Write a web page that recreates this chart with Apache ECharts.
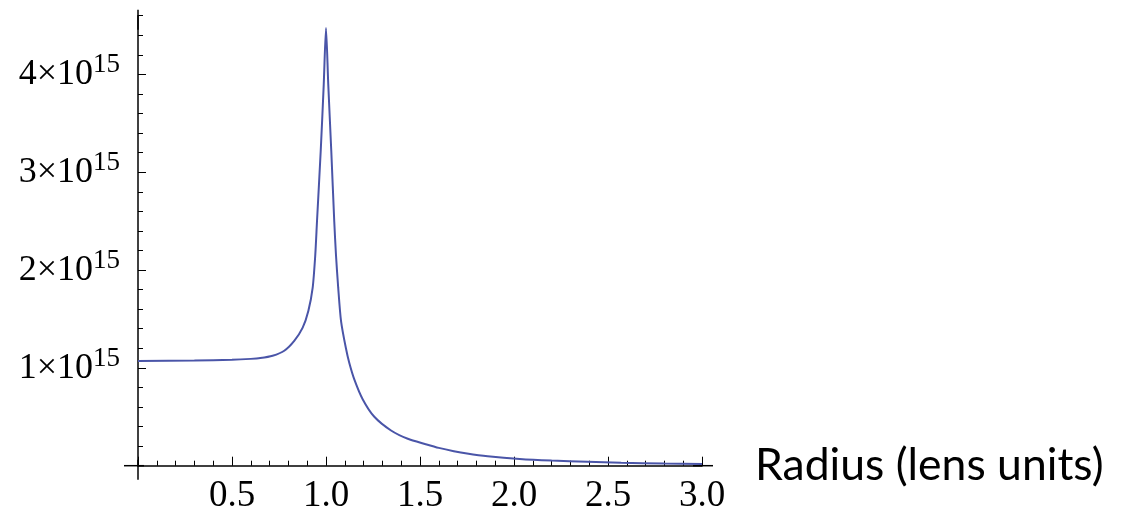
<!DOCTYPE html>
<html>
<head>
<meta charset="utf-8">
<script src="https://cdn.jsdelivr.net/npm/echarts@6/dist/echarts.min.js"></script>
<style>
  html, body { margin: 0; padding: 0; background: #fff; }
  #chart { width: 1122px; height: 515px; }
</style>
</head>
<body>
<div id="chart"></div>
<script>
// radius in lens units
var radius = [0, 0.3, 0.5, 0.6, 0.65, 0.716, 0.778, 0.831, 0.876, 0.906, 0.929, 0.943, 0.952, 0.972, 0.988,
  1.0, 1.012, 1.028, 1.044, 1.053, 1.065, 1.08, 1.106, 1.124, 1.151, 1.195, 1.257, 1.346, 1.435, 1.53, 1.6, 1.68,
  1.75, 1.86, 2.03, 2.2, 2.39, 2.57, 2.8, 3.0];
// curve values
var density = [1.07e15, 1.075e15, 1.083e15, 1.092e15, 1.10e15, 1.124e15, 1.175e15, 1.276e15, 1.411e15, 1.581e15,
  1.817e15, 2.156e15, 2.494e15, 3.222e15, 3.898e15,
  4.474e15, 3.898e15, 3.222e15, 2.494e15, 2.156e15, 1.817e15, 1.479e15, 1.2e15, 1.05e15, 0.88e15, 0.68e15,
  0.5e15, 0.36e15, 0.275e15, 0.22e15, 0.182e15, 0.148e15, 0.124e15, 0.096e15, 0.068e15, 0.052e15, 0.041e15,
  0.031e15, 0.022e15, 0.017e15];
var xTicks = [0.5, 1.0, 1.5, 2.0, 2.5, 3.0];
var yTicks = [1e15, 2e15, 3e15, 4e15];

var points = radius.map(function (r, i) { return [r, density[i]]; });

var chart = echarts.init(document.getElementById('chart'));
chart.setOption({
  animation: false,
  backgroundColor: '#fff',
  grid: { left: 138, right: 420, top: 15.7, bottom: 49.3, containLabel: false, outerBoundsMode: 'none' },
  xAxis: {
    type: 'value',
    min: 0,
    max: 3,
    interval: 0.5,
    name: 'Radius (lens units)',
    nameLocation: 'end',
    nameGap: 53,
    nameTextStyle: { fontFamily: 'Lato', fontSize: 44.5, color: '#000', padding: [0, 0, 21, 0] },
    axisLine: {
      onZero: false,
      lineStyle: { color: '#000', width: 1.5 },
      symbol: ['rect', 'rect'],
      symbolSize: [1.5, 20],
      symbolOffset: [-4, 1]
    },
    axisTick: { inside: true, length: 9, lineStyle: { color: '#000', width: 1 } },
    minorTick: { show: true, splitNumber: 5, length: 5, lineStyle: { color: '#000', width: 1 } },
    splitLine: { show: false },
    axisLabel: {
      customValues: xTicks,
      margin: 12,
      fontFamily: 'Liberation Serif',
      fontSize: 37,
      color: '#000',
      formatter: function (v) { return v.toFixed(1); }
    }
  },
  yAxis: [
    {
      // small ticks every 0.2 x 10^15
      type: 'value',
      min: 0,
      max: 4.6e15,
      interval: 0.2e15,
      axisLine: {
        show: true,
        onZero: false,
        lineStyle: { color: '#000', width: 1.5 },
        symbol: ['rect', 'rect'],
        symbolSize: [1.5, 20],
        symbolOffset: [-4, -4]
      },
      axisTick: { inside: true, length: 5, lineStyle: { color: '#000', width: 1 } },
      axisLabel: { show: false },
      splitLine: { show: false }
    },
    {
      // major ticks + labels
      type: 'value',
      position: 'left',
      min: 0,
      max: 4.6e15,
      interval: 1e15,
      axisLine: { show: false, onZero: false },
      axisTick: { inside: true, length: 8, customValues: yTicks, lineStyle: { color: '#000', width: 1 } },
      splitLine: { show: false },
      axisLabel: {
        customValues: yTicks,
        margin: 18,
        color: '#000',
        fontFamily: 'Liberation Serif',
        formatter: function (v) { return '{m|' + Math.round(v / 1e15) + '\u00d710}{s|15}'; },
        rich: {
          m: { fontFamily: 'Liberation Serif', fontSize: 36, lineHeight: 37, verticalAlign: 'bottom', color: '#000' },
          s: { fontFamily: 'Liberation Serif', fontSize: 27, lineHeight: 25, padding: [0, 0, 18, 0], color: '#000' }
        }
      }
    }
  ],
  series: [
    {
      type: 'line',
      data: points,
      xAxisIndex: 0,
      yAxisIndex: 0,
      showSymbol: false,
      smooth: 0.25,
      lineStyle: { color: '#4a55a8', width: 2 }
    }
  ]
});
</script>
</body>
</html>
